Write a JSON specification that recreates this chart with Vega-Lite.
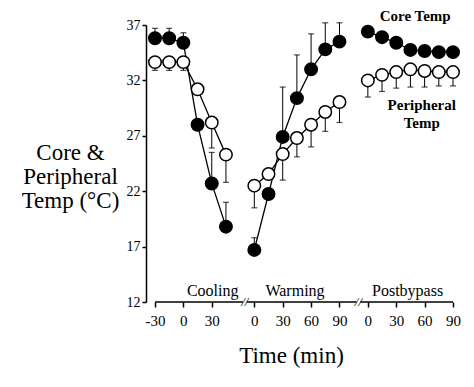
{
  "$schema": "https://vega.github.io/schema/vega-lite/v6.json",
  "width": 307,
  "height": 277,
  "autosize": "none",
  "padding": {"left": 146, "top": 25, "right": 21, "bottom": 85},
  "background": "white",
  "config": {
    "view": {"stroke": null},
    "font": "Liberation Serif",
    "axis": {
      "domainColor": "black", "tickColor": "black", "labelColor": "black", "titleColor": "black",
      "labelFont": "Liberation Serif", "titleFont": "Liberation Serif", "grid": false,
      "domainWidth": 1.5, "tickWidth": 1.5, "titleFontWeight": "normal"
    }
  },
  "datasets": {
    "temps": [
      {"series": "Core", "phase": "Cooling", "pos": -30, "val": 35.8, "err": 36.7},
      {"series": "Core", "phase": "Cooling", "pos": -15, "val": 35.8, "err": 36.7},
      {"series": "Core", "phase": "Cooling", "pos": 0, "val": 35.4, "err": 36.3},
      {"series": "Core", "phase": "Cooling", "pos": 15, "val": 28.0, "err": null},
      {"series": "Core", "phase": "Cooling", "pos": 30, "val": 22.7, "err": 25.5},
      {"series": "Core", "phase": "Cooling", "pos": 45, "val": 18.8, "err": 21.0},
      {"series": "Core", "phase": "Warming", "pos": 75, "val": 16.7, "err": 17.8},
      {"series": "Core", "phase": "Warming", "pos": 90, "val": 21.75, "err": null},
      {"series": "Core", "phase": "Warming", "pos": 105, "val": 26.9, "err": 31.4},
      {"series": "Core", "phase": "Warming", "pos": 120, "val": 30.4, "err": 34.3},
      {"series": "Core", "phase": "Warming", "pos": 135, "val": 33.0, "err": 36.2},
      {"series": "Core", "phase": "Warming", "pos": 150, "val": 34.8, "err": 37.2},
      {"series": "Core", "phase": "Warming", "pos": 165, "val": 35.5, "err": 37.2},
      {"series": "Core", "phase": "Postbypass", "pos": 195, "val": 36.4, "err": null},
      {"series": "Core", "phase": "Postbypass", "pos": 210, "val": 35.9, "err": null},
      {"series": "Core", "phase": "Postbypass", "pos": 225, "val": 35.4, "err": null},
      {"series": "Core", "phase": "Postbypass", "pos": 240, "val": 34.75, "err": null},
      {"series": "Core", "phase": "Postbypass", "pos": 255, "val": 34.65, "err": null},
      {"series": "Core", "phase": "Postbypass", "pos": 270, "val": 34.55, "err": null},
      {"series": "Core", "phase": "Postbypass", "pos": 285, "val": 34.55, "err": null},
      {"series": "Peripheral", "phase": "Cooling", "pos": -30, "val": 33.65, "err": 32.9},
      {"series": "Peripheral", "phase": "Cooling", "pos": -15, "val": 33.65, "err": 32.9},
      {"series": "Peripheral", "phase": "Cooling", "pos": 0, "val": 33.65, "err": 32.9},
      {"series": "Peripheral", "phase": "Cooling", "pos": 15, "val": 31.2, "err": null},
      {"series": "Peripheral", "phase": "Cooling", "pos": 30, "val": 28.2, "err": 25.9},
      {"series": "Peripheral", "phase": "Cooling", "pos": 45, "val": 25.3, "err": 22.8},
      {"series": "Peripheral", "phase": "Warming", "pos": 75, "val": 22.5, "err": 20.5},
      {"series": "Peripheral", "phase": "Warming", "pos": 90, "val": 23.55, "err": null},
      {"series": "Peripheral", "phase": "Warming", "pos": 105, "val": 25.35, "err": 23.0},
      {"series": "Peripheral", "phase": "Warming", "pos": 120, "val": 26.8, "err": 25.1},
      {"series": "Peripheral", "phase": "Warming", "pos": 135, "val": 28.0, "err": 26.0},
      {"series": "Peripheral", "phase": "Warming", "pos": 150, "val": 29.15, "err": 27.4},
      {"series": "Peripheral", "phase": "Warming", "pos": 165, "val": 30.05, "err": 28.2},
      {"series": "Peripheral", "phase": "Postbypass", "pos": 195, "val": 32.0, "err": 30.5},
      {"series": "Peripheral", "phase": "Postbypass", "pos": 210, "val": 32.5, "err": 31.0},
      {"series": "Peripheral", "phase": "Postbypass", "pos": 225, "val": 32.75, "err": 31.3},
      {"series": "Peripheral", "phase": "Postbypass", "pos": 240, "val": 33.0, "err": 31.4},
      {"series": "Peripheral", "phase": "Postbypass", "pos": 255, "val": 32.85, "err": 31.4},
      {"series": "Peripheral", "phase": "Postbypass", "pos": 270, "val": 32.75, "err": 31.5},
      {"series": "Peripheral", "phase": "Postbypass", "pos": 285, "val": 32.75, "err": 31.5}
    ],
    "segs": [
      {"start": -30, "end": 63, "y": 12},
      {"start": 67, "end": 183, "y": 12},
      {"start": 187, "end": 285, "y": 12}
    ],
    "breaks": [
      {"pos": 65, "y": 12, "lab": "//"},
      {"pos": 185, "y": 12, "lab": "//"}
    ],
    "sections": [
      {"pos": 31, "y": 12, "lab": "Cooling"},
      {"pos": 118, "y": 12, "lab": "Warming"},
      {"pos": 237, "y": 12, "lab": "Postbypass"}
    ],
    "legendText": [
      {"pos": 245, "y": 37.8, "lab": "Core Temp"},
      {"pos": 252, "y": 29.75, "lab": "Peripheral"},
      {"pos": 252, "y": 28.15, "lab": "Temp"}
    ]
  },
  "encoding": {
    "x": {
      "field": "pos", "type": "quantitative",
      "scale": {"domain": [-39.5, 285], "nice": false, "zero": false},
      "axis": {
        "values": [-30, 0, 30, 75, 105, 135, 165, 195, 225, 255, 285],
        "labelExpr": "datum.value < 60 ? datum.value : (datum.value < 180 ? datum.value - 75 : datum.value - 195)",
        "domain": false, "tickSize": 5, "labelFontSize": 15, "labelPadding": 6,
        "labelFlush": false, "labelOverlap": false,
        "title": "Time (min)", "titleFontSize": 23, "titleX": 145, "titleY": 53,
        "titleAnchor": null, "titleAlign": "center", "titleBaseline": "middle"
      }
    },
    "y": {
      "field": "val", "type": "quantitative",
      "scale": {"domain": [12, 37], "nice": false, "zero": false},
      "axis": {
        "values": [12, 17, 22, 27, 32, 37], "tickSize": 4, "labelFontSize": 14, "labelPadding": 2,
        "labelFlush": false,
        "title": ["Core &", "Peripheral", "Temp (°C)"], "titleFontSize": 23, "titleAngle": 0,
        "titleX": -76, "titleY": 127, "titleAlign": "center", "titleBaseline": "middle",
        "titleLineHeight": 24, "titleAnchor": null
      }
    }
  },
  "layer": [
    {
      "data": {"name": "temps"},
      "transform": [{"filter": "isValid(datum.err)"}],
      "mark": {"type": "rule", "color": "black", "strokeWidth": 1},
      "encoding": {"y2": {"field": "err"}}
    },
    {
      "data": {"name": "temps"},
      "transform": [{"filter": "isValid(datum.err)"}],
      "mark": {"type": "tick", "orient": "horizontal", "color": "black", "size": 6, "thickness": 1.2},
      "encoding": {"y": {"field": "err", "type": "quantitative"}}
    },
    {
      "data": {"name": "temps"},
      "mark": {"type": "line", "color": "black", "strokeWidth": 1.3},
      "encoding": {"detail": [{"field": "series"}, {"field": "phase"}], "order": {"field": "pos"}}
    },
    {
      "data": {"name": "temps"},
      "mark": {"type": "point", "shape": "circle", "filled": false, "size": 155, "stroke": "black", "strokeWidth": 1.5, "opacity": 1},
      "encoding": {
        "fill": {"field": "series", "type": "nominal", "scale": {"domain": ["Core", "Peripheral"], "range": ["black", "white"]}, "legend": null}
      }
    },
    {
      "data": {"name": "segs"},
      "mark": {"type": "rule", "color": "black", "strokeWidth": 1.5},
      "encoding": {"x": {"field": "start", "type": "quantitative"}, "x2": {"field": "end"}, "y": {"field": "y", "type": "quantitative"}}
    },
    {
      "data": {"name": "breaks"},
      "mark": {"type": "text", "fontSize": 13, "font": "Liberation Serif", "color": "black", "baseline": "middle", "align": "center", "fontStyle": "italic"},
      "encoding": {"x": {"field": "pos", "type": "quantitative"}, "y": {"field": "y", "type": "quantitative"}, "text": {"field": "lab"}}
    },
    {
      "data": {"name": "sections"},
      "mark": {"type": "text", "fontSize": 16, "font": "Liberation Serif", "color": "black", "baseline": "alphabetic", "align": "center", "dy": -6},
      "encoding": {"x": {"field": "pos", "type": "quantitative"}, "y": {"field": "y", "type": "quantitative"}, "text": {"field": "lab"}}
    },
    {
      "data": {"name": "legendText"},
      "mark": {"type": "text", "fontSize": 15, "font": "Liberation Serif", "fontWeight": "bold", "color": "black", "baseline": "middle", "align": "center"},
      "encoding": {"x": {"field": "pos", "type": "quantitative"}, "y": {"field": "y", "type": "quantitative"}, "text": {"field": "lab"}}
    }
  ]
}
